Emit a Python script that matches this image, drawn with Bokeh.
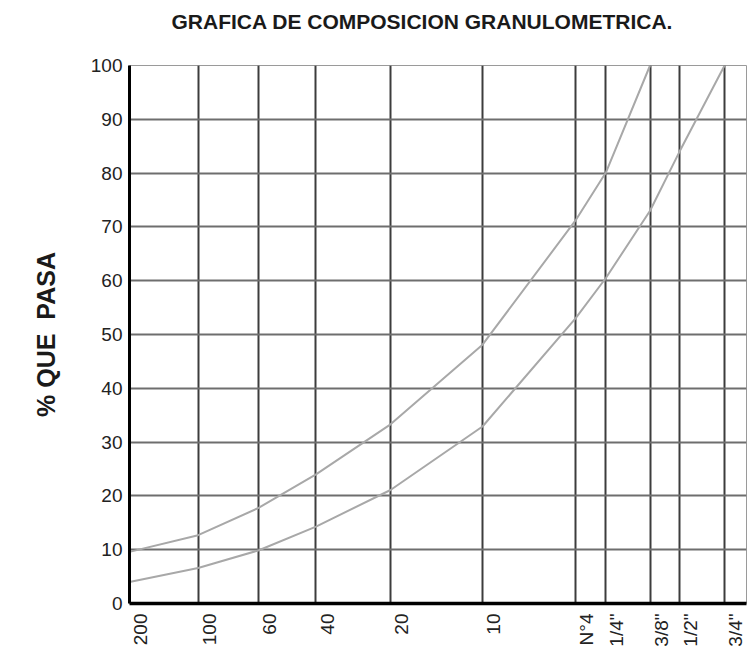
from math import pi
from bokeh.plotting import figure
from bokeh.models import Range1d, FixedTicker, LogScale, Title
from bokeh.embed import file_html
from bokeh.resources import INLINE

# Sieve designations and their openings (mm)
sieve_labels = ['200', '100', '60', '40', '20', '10', 'N°4', '1/4"', '3/8"', '1/2"', '3/4"']
sieve_mm = [0.075, 0.142, 0.25, 0.425, 0.85, 2.0, 4.75, 6.3, 9.5, 12.5, 19.0]

# Percent passing, upper (fine) limit and lower (coarse) limit
upper_pct = [9.6, 12.7, 17.8, 24.0, 33.3, 48.1, 71.2, 80.1, 100.0]
lower_pct = [4.0, 6.6, 9.9, 14.3, 21.1, 32.9, 53.0, 60.5, 73.0, 84.0, 100.0]

y_ticks = [0, 10, 20, 30, 40, 50, 60, 70, 80, 90, 100]

FONT = "Liberation Sans"
X_START, X_END = 0.075, 23.3
LABEL_SHIFT = 0.9027  # shifts the sieve names a few pixels right of their lines

p = figure(width=747, height=649, x_axis_type="log",
           x_range=Range1d(X_START, X_END), y_range=Range1d(0, 100),
           output_backend="svg", toolbar_location=None, title_location=None,
           min_border_left=129, min_border_right=1,
           min_border_top=65, min_border_bottom=42,
           background_fill_color="white", border_fill_color="white")

p.extra_x_ranges = {"lbl": Range1d(X_START * LABEL_SHIFT, X_END * LABEL_SHIFT)}
p.extra_x_scales = {"lbl": LogScale()}

spacer = Title(text=" ", text_font_size="1px", standoff=30)
p.add_layout(spacer, "above")
main_title = Title(text="GRAFICA DE COMPOSICION GRANULOMETRICA.",
                   text_font=FONT, text_font_size="21px", text_font_style="bold",
                   text_color="#1a1a1a", align="left", offset=42, standoff=0)
p.add_layout(main_title, "above")

p.outline_line_color = "#9a9a9a"
p.outline_line_width = 1

# grids
p.xgrid.ticker = FixedTicker(ticks=sieve_mm)
p.xgrid.grid_line_color = "#3c3c3c"
p.xgrid.grid_line_width = 2
p.ygrid.ticker = FixedTicker(ticks=y_ticks)
p.ygrid.grid_line_color = "#6e6e6e"
p.ygrid.grid_line_width = 2

# y axis
p.yaxis.ticker = FixedTicker(ticks=y_ticks)
p.yaxis.axis_line_color = "black"
p.yaxis.axis_line_width = 3
p.yaxis.major_tick_line_color = None
p.yaxis.minor_tick_line_color = None
p.yaxis.major_tick_out = 0
p.yaxis.major_tick_in = 0
p.yaxis.major_label_standoff = 7
p.yaxis.major_label_text_font = FONT
p.yaxis.major_label_text_font_size = "19px"
p.yaxis.major_label_text_color = "#222222"
p.yaxis.axis_label = "%\u00a0QUE\u00a0\u00a0PASA"
p.yaxis.axis_label_text_font = FONT
p.yaxis.axis_label_text_font_size = "25px"
p.yaxis.axis_label_text_font_style = "bold"
p.yaxis.axis_label_text_color = "#1a1a1a"
p.yaxis.axis_label_standoff = 28

# x axis with sieve names
xa = p.xaxis[0]
xa.x_range_name = "lbl"
xa.ticker = FixedTicker(ticks=sieve_mm)
xa.major_label_overrides = {v: t for v, t in zip(sieve_mm, sieve_labels)}
xa.major_label_orientation = pi / 2
xa.axis_line_color = "black"
xa.axis_line_width = 3.5
xa.major_tick_line_color = None
xa.minor_tick_line_color = None
xa.major_tick_out = 0
xa.major_tick_in = 0
xa.major_label_standoff = 10
xa.major_label_text_font = FONT
xa.major_label_text_font_size = "19px"
xa.major_label_text_color = "#222222"

p.line(sieve_mm[:len(upper_pct)], upper_pct, line_color="#a8a8a8", line_width=2)
p.line(sieve_mm[:len(lower_pct)], lower_pct, line_color="#a8a8a8", line_width=2)

open("out.html", "w").write(file_html(p, INLINE))
